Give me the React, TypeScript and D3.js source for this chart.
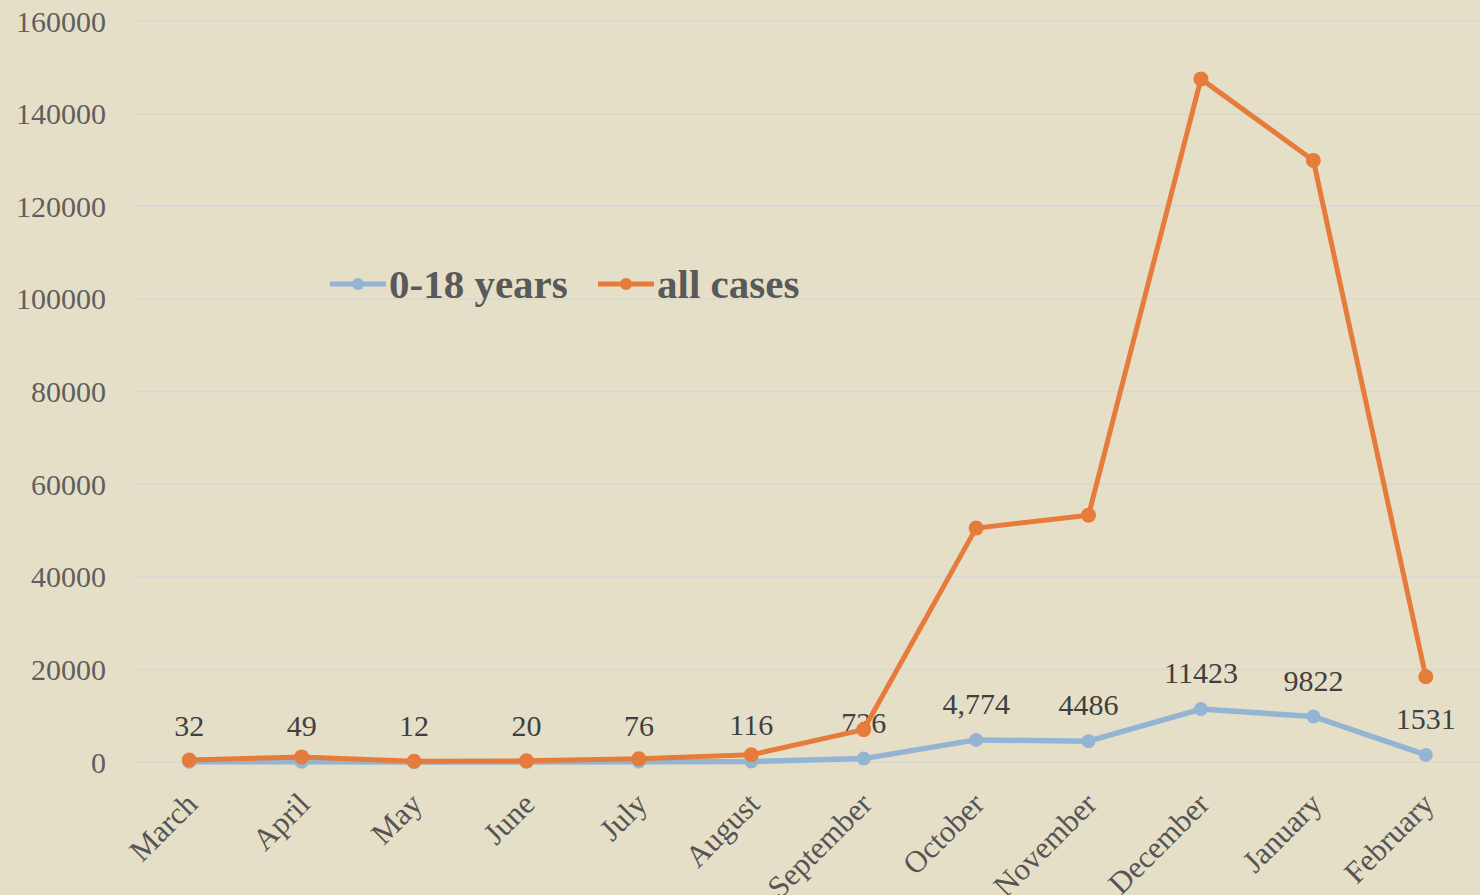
import * as d3 from 'd3';

const months = ['March', 'April', 'May', 'June', 'July', 'August', 'September', 'October', 'November', 'December', 'January', 'February'];
const youthCases = [32, 49, 12, 20, 76, 116, 736, 4774, 4486, 11423, 9822, 1531];
const youthLabels = ['32', '49', '12', '20', '76', '116', '736', '4,774', '4486', '11423', '9822', '1531'];
const allCases = [420, 1100, 150, 250, 700, 1550, 7000, 50500, 53300, 147500, 129900, 18400];
const yTicks = [0, 20000, 40000, 60000, 80000, 100000, 120000, 140000, 160000];

const legendItems = [
  { label: '0-18 years', color: '#93B4D2' },
  { label: 'all cases', color: '#E67C3B' },
];

const W = 1480;
const H = 895;
const FONT = '"Liberation Serif", "DejaVu Serif", serif';

const App = () => {
  const x = d3.scaleBand().domain(months).range([133, 1482]).padding(0);
  const cx = (m: string) => (x(m) ?? 0) + x.bandwidth() / 2;
  const y = d3.scaleLinear().domain([0, 160000]).range([762, 21]);

  const line = d3
    .line<number>()
    .x((_, i) => cx(months[i]))
    .y((d) => y(d));

  return (
    <svg
      width={W}
      height={H}
      style={{ position: 'absolute', left: 0, top: 0, display: 'block' }}
      fontFamily={FONT}
    >
      <rect width={W} height={H} fill="#E6DFC7" />

      {/* grid + y labels */}
      {yTicks.map((t) => (
        <g key={t}>
          <line x1={133} x2={W} y1={y(t)} y2={y(t)} stroke="#D8D8D2" strokeWidth={1.5} />
          <text x={106} y={y(t)} dy="0.35em" textAnchor="end" fontSize={30} fill="#5F5F5F">
            {t}
          </text>
        </g>
      ))}

      {/* x labels */}
      {months.map((m) => (
        <text
          key={m}
          transform={`translate(${cx(m) + 10},${806}) rotate(-45)`}
          textAnchor="end"
          fontSize={31}
          fill="#555555"
        >
          {m}
        </text>
      ))}

      {/* data labels */}
      {youthCases.map((v, i) => (
        <text
          key={i}
          x={cx(months[i])}
          y={y(v) - 26}
          textAnchor="middle"
          fontSize={30}
          fill="#404040"
        >
          {youthLabels[i]}
        </text>
      ))}

      {/* 0-18 years */}
      <path d={line(youthCases) ?? ''} fill="none" stroke={legendItems[0].color} strokeWidth={5.5} strokeLinejoin="round" />
      {youthCases.map((v, i) => (
        <circle key={i} cx={cx(months[i])} cy={y(v)} r={7} fill={legendItems[0].color} />
      ))}

      {/* all cases */}
      <path d={line(allCases) ?? ''} fill="none" stroke={legendItems[1].color} strokeWidth={5} strokeLinejoin="round" />
      {allCases.map((v, i) => (
        <circle key={i} cx={cx(months[i])} cy={y(v)} r={7.5} fill={legendItems[1].color} />
      ))}

      {/* legend */}
      {legendItems.map((d, i) => {
        const lx = i === 0 ? 330 : 598;
        return (
          <g key={d.label} transform={`translate(${lx},284)`}>
            <line x1={0} x2={56} y1={0} y2={0} stroke={d.color} strokeWidth={5} />
            <circle cx={28} cy={0} r={6} fill={d.color} />
            <text x={59} y={0} dy="0.33em" fontSize={41} fontWeight="bold" fill="#595959">
              {d.label}
            </text>
          </g>
        );
      })}
    </svg>
  );
};

export default App;
